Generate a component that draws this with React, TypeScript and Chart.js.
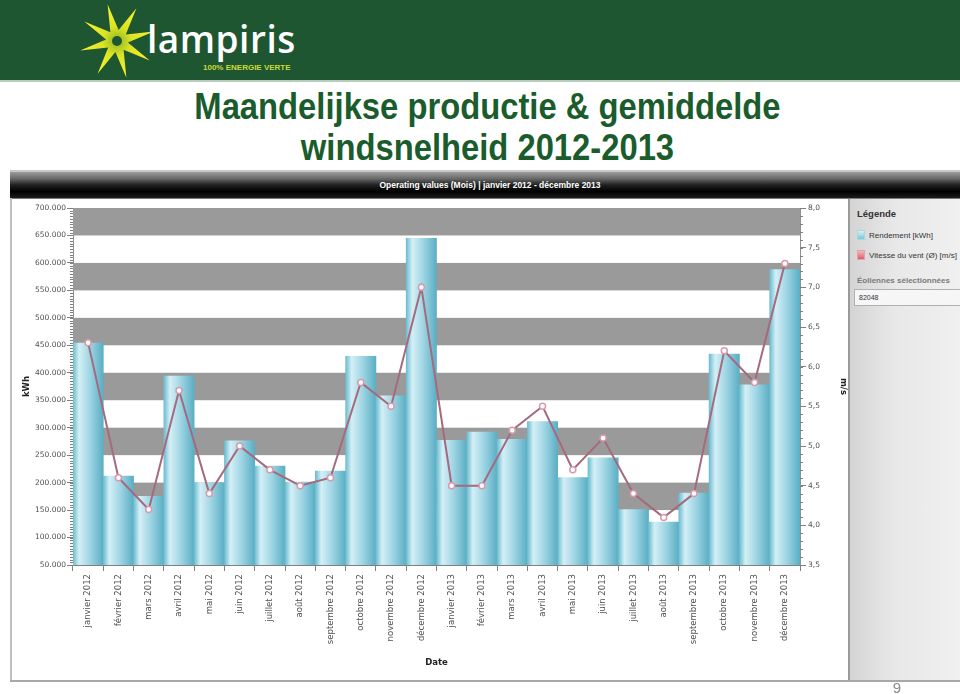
import React, { useEffect, useRef } from 'react';
import { Chart, registerables } from 'chart.js';

Chart.register(...registerables);

const MONTHS = [
  'janvier 2012', 'février 2012', 'mars 2012', 'avril 2012', 'mai 2012', 'juin 2012',
  'juillet 2012', 'août 2012', 'septembre 2012', 'octobre 2012', 'novembre 2012', 'décembre 2012',
  'janvier 2013', 'février 2013', 'mars 2013', 'avril 2013', 'mai 2013', 'juin 2013',
  'juillet 2013', 'août 2013', 'septembre 2013', 'octobre 2013', 'novembre 2013', 'décembre 2013',
];

const RENDEMENT_KWH = [
  454000, 212000, 175000, 394000, 200000, 276000, 230000, 201000, 221000, 430000, 358000, 645000,
  277000, 292000, 279000, 311000, 209000, 245000, 151000, 128000, 181000, 434000, 378000, 588000,
];

const VITESSE_VENT = [
  6.3, 4.6, 4.2, 5.7, 4.4, 5.0, 4.7, 4.5, 4.6, 5.8, 5.5, 7.0,
  4.5, 4.5, 5.2, 5.5, 4.7, 5.1, 4.4, 4.1, 4.4, 6.2, 5.8, 7.3,
];

const KWH_MIN = 50000;
const KWH_MAX = 700000;
const KWH_STEP = 50000;
const KWH_MINOR = 5000;
const MS_MIN = 3.5;
const MS_MAX = 8;
const MS_STEP = 0.5;
const MS_MINOR = 0.1;

const GRAY_BANDS: [number, number][] = [
  [650000, 700000],
  [550000, 600000],
  [450000, 500000],
  [350000, 400000],
  [250000, 300000],
  [150000, 200000],
  [50000, 100000],
];

const bandsPlugin = {
  id: 'bands',
  beforeDatasetsDraw(chart: any) {
    const { ctx, chartArea } = chart;
    const y = chart.scales.y;
    ctx.save();
    ctx.fillStyle = '#9a9a9a';
    GRAY_BANDS.forEach(([lo, hi]) => {
      const top = y.getPixelForValue(hi);
      const bottom = y.getPixelForValue(lo);
      ctx.fillRect(chartArea.left, top, chartArea.right - chartArea.left, bottom - top);
    });
    ctx.restore();
  },
};

const minorTicksPlugin = {
  id: 'minorTicks',
  afterDraw(chart: any) {
    const { ctx } = chart;
    const y = chart.scales.y;
    const y1 = chart.scales.y1;
    ctx.save();
    ctx.strokeStyle = '#808080';
    ctx.lineWidth = 1;
    const n = Math.round((KWH_MAX - KWH_MIN) / KWH_MINOR);
    for (let i = 0; i <= n; i++) {
      const v = KWH_MIN + i * KWH_MINOR;
      const py = Math.round(y.getPixelForValue(v)) + 0.5;
      ctx.beginPath();
      ctx.moveTo(y.right - 3, py);
      ctx.lineTo(y.right, py);
      ctx.stroke();
    }
    const m = Math.round((MS_MAX - MS_MIN) / MS_MINOR);
    for (let i = 0; i <= m; i++) {
      const v = MS_MIN + i * MS_MINOR;
      const py = Math.round(y1.getPixelForValue(v)) + 0.5;
      ctx.beginPath();
      ctx.moveTo(y1.left, py);
      ctx.lineTo(y1.left + 3, py);
      ctx.stroke();
    }
    ctx.restore();
  },
};

function barFill(c: any) {
  const chart = c.chart;
  const xs = chart.scales && chart.scales.x;
  const area = chart.chartArea;
  if (!xs || !area || c.dataIndex == null) return '#9fd5e3';
  const cx = xs.getPixelForValue(c.dataIndex);
  const w = (area.right - area.left) / MONTHS.length;
  const g = chart.ctx.createLinearGradient(cx - w / 2, 0, cx + w / 2, 0);
  g.addColorStop(0, '#6cbcd0');
  g.addColorStop(0.2, '#d4eff6');
  g.addColorStop(0.55, '#a0d6e4');
  g.addColorStop(1, '#5aaec4');
  return g;
}

function ChartCanvas() {
  const ref = useRef<HTMLCanvasElement>(null);
  useEffect(() => {
    if (!ref.current) return;
    const chart = new Chart(ref.current, {
      type: 'bar',
      data: {
        labels: MONTHS,
        datasets: [
          {
            type: 'line',
            label: 'Vitesse du vent (Ø) [m/s]',
            data: VITESSE_VENT,
            yAxisID: 'y1',
            borderColor: '#a56a7e',
            borderWidth: 2,
            pointBackgroundColor: '#ffffff',
            pointBorderColor: '#d89aaa',
            pointBorderWidth: 1.5,
            pointRadius: 3,
            tension: 0,
            order: 0,
          } as any,
          {
            type: 'bar',
            label: 'Rendement [kWh]',
            data: RENDEMENT_KWH,
            yAxisID: 'y',
            backgroundColor: barFill,
            borderWidth: 0,
            barPercentage: 1,
            categoryPercentage: 1,
            order: 1,
          } as any,
        ],
      },
      options: {
        animation: false,
        responsive: false,
        maintainAspectRatio: false,
        layout: { padding: { top: 10, left: 0, right: 0, bottom: 0 } },
        plugins: {
          legend: { display: false },
          tooltip: { enabled: false },
          title: { display: false },
        },
        scales: {
          x: {
            type: 'category',
            offset: true,
            grid: {
              display: true,
              drawOnChartArea: false,
              drawTicks: true,
              tickLength: 6,
              color: '#808080',
              offset: true,
            },
            border: { display: true, color: '#808080' },
            ticks: {
              autoSkip: false,
              maxRotation: 90,
              minRotation: 90,
              padding: 3,
              color: '#505050',
              font: { family: 'DejaVu Sans', size: 8.5 },
            },
            title: {
              display: true,
              text: 'Date',
              color: '#222222',
              font: { family: 'DejaVu Sans', size: 8.5, weight: 'bold' },
              padding: { top: 0, bottom: 14 },
            },
            afterFit(scale: any) {
              scale.height = 117;
            },
          },
          y: {
            type: 'linear',
            position: 'left',
            min: KWH_MIN,
            max: KWH_MAX,
            grid: {
              drawOnChartArea: false,
              drawTicks: true,
              tickLength: 6,
              color: '#808080',
            },
            border: { display: true, color: '#909090' },
            ticks: {
              stepSize: KWH_STEP,
              padding: 1,
              color: '#505050',
              font: { family: 'DejaVu Sans', size: 7.5 },
              callback: (v: any) => `${Math.round(Number(v) / 1000)}.000`,
            },
            title: {
              display: true,
              text: 'kWh',
              color: '#222222',
              font: { family: 'DejaVu Sans', size: 8.5, weight: 'bold' },
              padding: { top: 12, bottom: 0 },
            },
            afterFit(scale: any) {
              scale.width = 63;
            },
          },
          y1: {
            type: 'linear',
            position: 'right',
            min: MS_MIN,
            max: MS_MAX,
            grid: {
              drawOnChartArea: false,
              drawTicks: true,
              tickLength: 6,
              color: '#808080',
            },
            border: { display: true, color: '#909090' },
            ticks: {
              stepSize: MS_STEP,
              padding: 2,
              color: '#505050',
              font: { family: 'DejaVu Sans', size: 7.5 },
              callback: (v: any) => Number(v).toFixed(1).replace('.', ','),
            },
            title: {
              display: true,
              text: 'm/s',
              color: '#222222',
              font: { family: 'DejaVu Sans', size: 8.5, weight: 'bold' },
              padding: { top: 0, bottom: 14 },
            },
            afterFit(scale: any) {
              scale.width = 48;
            },
          },
        },
      } as any,
      plugins: [bandsPlugin, minorTicksPlugin],
    });
    return () => chart.destroy();
  }, []);
  return (
    <canvas
      ref={ref}
      width={838}
      height={484}
      style={{ position: 'absolute', left: 10, top: 198, width: 838, height: 484 }}
    />
  );
}

function starPoints(cx: number, cy: number, rOut: number, rIn: number, n: number, rot: number) {
  const pts: string[] = [];
  for (let i = 0; i < n * 2; i++) {
    const r = i % 2 === 0 ? rOut : rIn;
    const a = rot + (i * Math.PI) / n;
    pts.push(`${(cx + r * Math.cos(a)).toFixed(1)},${(cy + r * Math.sin(a)).toFixed(1)}`);
  }
  return pts.join(' ');
}

export default function App() {
  return (
    <div
      style={{
        position: 'absolute',
        left: 0,
        top: 0,
        width: 960,
        height: 694,
        background: '#ffffff',
        overflow: 'hidden',
        fontFamily: '"Liberation Sans", Arial, sans-serif',
      }}
    >
      {/* header */}
      <div style={{ position: 'absolute', left: 0, top: 0, width: 960, height: 80, background: '#1f5632' }} />
      <div style={{ position: 'absolute', left: 0, top: 80, width: 960, height: 2, background: '#b9cdbf' }} />
      <svg style={{ position: 'absolute', left: 0, top: 0 }} width={320} height={80}>
        <defs>
          <radialGradient id="sg" cx="50%" cy="50%" r="50%">
            <stop offset="0%" stopColor="#8fb428" />
            <stop offset="40%" stopColor="#dce424" />
            <stop offset="100%" stopColor="#f8f22c" />
          </radialGradient>
        </defs>
        <polygon points={starPoints(117, 41, 38, 11, 8, -0.25)} fill="url(#sg)" />
        <circle cx={117} cy={41} r={5} fill="#1f5632" />
      </svg>
      <div
        style={{
          position: 'absolute',
          left: 147,
          top: 14,
          fontFamily: '"Open Sans", sans-serif',
          fontWeight: 600,
          fontSize: 37,
          lineHeight: '50px',
          color: '#ffffff',
          letterSpacing: 0.5,
        }}
      >
        lampiris
      </div>
      <div
        style={{
          position: 'absolute',
          left: 203,
          top: 63,
          fontFamily: '"Liberation Sans", Arial, sans-serif',
          fontWeight: 700,
          fontSize: 8,
          lineHeight: '10px',
          color: '#c9d93a',
        }}
      >
        100% ENERGIE VERTE
      </div>

      {/* title */}
      <div
        style={{
          position: 'absolute',
          left: 0,
          top: 87,
          width: 975,
          textAlign: 'center',
          fontSize: 36,
          lineHeight: '40px',
          fontWeight: 700,
          color: '#1a5c2c',
          transform: 'scaleX(0.91)',
          transformOrigin: '487px 0',
          whiteSpace: 'nowrap',
        }}
      >
        Maandelijkse productie &amp; gemiddelde
      </div>
      <div
        style={{
          position: 'absolute',
          left: 0,
          top: 128,
          width: 975,
          textAlign: 'center',
          fontSize: 36,
          lineHeight: '40px',
          fontWeight: 700,
          color: '#1a5c2c',
          transform: 'scaleX(0.91)',
          transformOrigin: '487px 0',
          whiteSpace: 'nowrap',
        }}
      >
        windsnelheid 2012-2013
      </div>

      {/* screenshot frame */}
      <div style={{ position: 'absolute', left: 10, top: 170, width: 950, height: 2, background: '#c8c8c8' }} />
      <div
        style={{
          position: 'absolute',
          left: 10,
          top: 172,
          width: 950,
          height: 26,
          background: 'linear-gradient(to bottom, #9c9c9c 0%, #6a6a6a 25%, #202020 50%, #000000 75%, #1c1c1c 100%)',
        }}
      />
      <div
        style={{
          position: 'absolute',
          left: 10,
          top: 178,
          width: 960,
          textAlign: 'center',
          color: '#ffffff',
          fontWeight: 700,
          fontSize: 8.5,
          lineHeight: '14px',
          whiteSpace: 'nowrap',
        }}
      >
        Operating values (Mois) | janvier 2012 - décembre 2013
      </div>
      <div style={{ position: 'absolute', left: 10, top: 198, width: 950, height: 1, background: '#7a7a7a' }} />
      <div style={{ position: 'absolute', left: 10, top: 198, width: 2, height: 484, background: '#c0c0c0' }} />

      <ChartCanvas />

      {/* legend panel */}
      <div
        style={{
          position: 'absolute',
          left: 848,
          top: 199,
          width: 112,
          height: 481,
          background: 'linear-gradient(to right, #d4d4d4 0%, #e8e8e8 40%, #f0f0f0 100%)',
          borderLeft: '2px solid #9a9a9a',
          boxSizing: 'border-box',
        }}
      >
        <div style={{ position: 'absolute', left: 7, top: 9, fontSize: 9.5, fontWeight: 700, color: '#333', whiteSpace: 'nowrap' }}>
          Légende
        </div>
        <div
          style={{
            position: 'absolute',
            left: 7,
            top: 31,
            width: 8,
            height: 10,
            background: 'linear-gradient(to bottom, #d6f0f6, #7cc6d8)',
            border: '1px solid #a8d8e4',
            boxSizing: 'border-box',
          }}
        />
        <div style={{ position: 'absolute', left: 19, top: 31, fontSize: 8, color: '#333', whiteSpace: 'nowrap', lineHeight: '11px' }}>
          Rendement [kWh]
        </div>
        <div
          style={{
            position: 'absolute',
            left: 7,
            top: 51,
            width: 8,
            height: 10,
            background: 'linear-gradient(to bottom, #f4b8c0, #d8606e)',
            border: '1px solid #e8a0a8',
            boxSizing: 'border-box',
          }}
        />
        <div style={{ position: 'absolute', left: 19, top: 51, fontSize: 8, color: '#333', whiteSpace: 'nowrap', lineHeight: '11px' }}>
          Vitesse du vent (Ø) [m/s]
        </div>
        <div style={{ position: 'absolute', left: 7, top: 76, fontSize: 8, fontWeight: 700, color: '#7a7a7a', whiteSpace: 'nowrap', lineHeight: '11px' }}>
          Éoliennes sélectionnées
        </div>
        <div
          style={{
            position: 'absolute',
            left: 4,
            top: 90,
            width: 120,
            height: 17,
            background: '#f6f6f6',
            border: '1px solid #b0b0b0',
            boxSizing: 'border-box',
          }}
        >
          <div style={{ position: 'absolute', left: 4, top: 3, fontSize: 7, color: '#333', lineHeight: '9px' }}>82048</div>
        </div>
      </div>

      <div style={{ position: 'absolute', left: 10, top: 680, width: 950, height: 2, background: '#a8a8a8' }} />
      <div
        style={{
          position: 'absolute',
          left: 887,
          top: 680,
          width: 20,
          textAlign: 'center',
          fontSize: 15,
          lineHeight: '16px',
          color: '#8a8a8a',
        }}
      >
        9
      </div>
    </div>
  );
}
